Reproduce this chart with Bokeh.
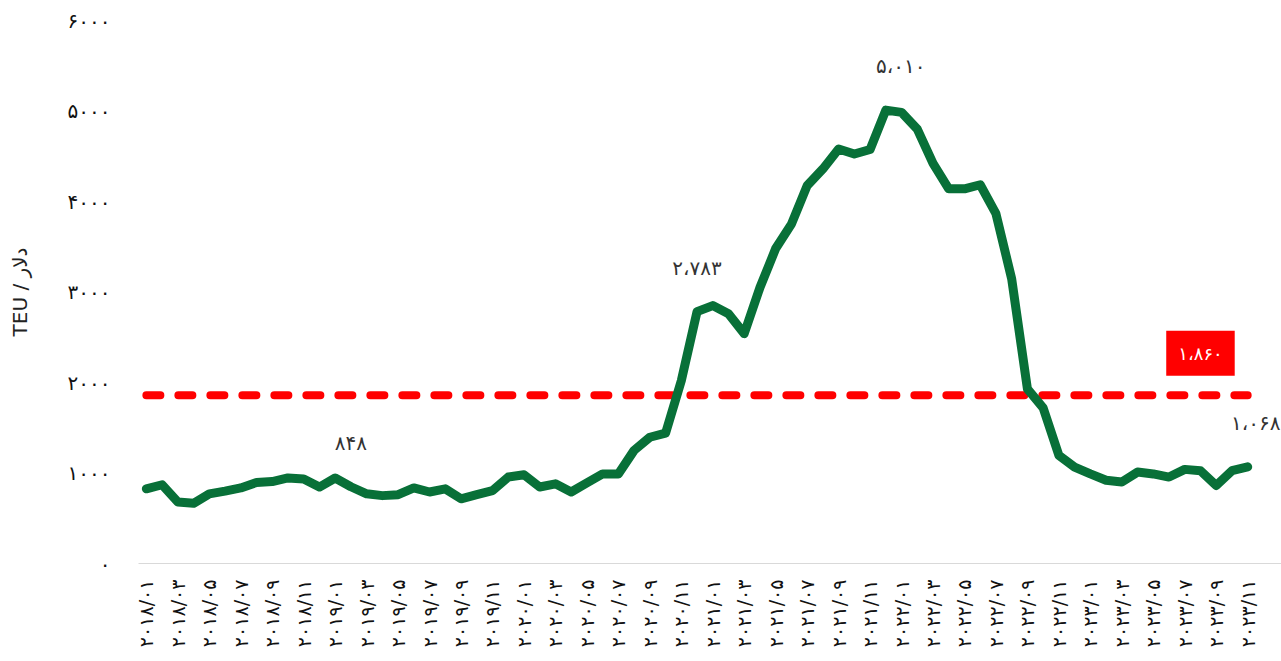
import math
from bokeh.plotting import figure
from bokeh.models import FixedTicker, Label, Range1d
from bokeh.embed import file_html
from bokeh.resources import INLINE

FA = str.maketrans("0123456789,", "۰۱۲۳۴۵۶۷۸۹،")

# monthly labels 2018/01 .. 2023/11
months = [f"{y}/{m:02d}" for y in range(2018, 2024) for m in range(1, 13)][:71]

# freight rate, USD / TEU
values = [825, 870, 680, 665, 770, 800, 835, 895, 905, 945,
          935, 845, 945, 848, 770, 750, 760, 835, 790, 825,
          715, 760, 805, 955, 980, 845, 880, 790, 890, 990,
          990, 1250, 1395, 1440, 2020, 2783, 2850, 2760, 2540, 3050,
          3480, 3750, 4175, 4360, 4580, 4525, 4575, 5010, 4985, 4800,
          4420, 4140, 4140, 4185, 3865, 3145, 1930, 1720, 1195, 1065,
          990, 920, 900, 1010, 990, 955, 1040, 1025, 862, 1025, 1068]

average = 1860
y_ticks = [0, 1000, 2000, 3000, 4000, 5000, 6000]

# annotated points: (month index, value)
callouts = [(13, 848), (35, 2783), (47, 5010), (70, 1068)]
callout_dx = [0, 0, 15, 8]

idx = list(range(len(values)))

p = figure(width=1281, height=661,
           x_range=Range1d(-0.5, 72.15), y_range=Range1d(0, 6000),
           output_backend="svg", toolbar_location=None,
           min_border_left=138, min_border_right=0,
           min_border_top=20, min_border_bottom=98)
p.outline_line_color = None
p.grid.visible = False
p.background_fill_color = "white"
p.border_fill_color = "white"

# average dashed line
p.line([idx[0], idx[-1]], [average, average], line_color="#ff0000",
       line_width=8, line_dash="14 18", line_cap="round")

# main series
p.line(idx, values, line_color="#087038", line_width=9,
       line_join="round", line_cap="round")

# axes
xa = p.xaxis[0]
xa.ticker = FixedTicker(ticks=list(range(0, 71, 2)))
xa.major_label_overrides = {i: months[i].translate(FA) for i in range(0, 71, 2)}
xa.major_label_orientation = math.pi / 2
xa.major_tick_line_color = None
xa.minor_tick_line_color = None
xa.axis_line_color = "#d9d9d9"
xa.major_label_text_font = "DejaVu Sans"
xa.major_label_text_font_size = "19px"
xa.major_label_text_color = "#111111"
xa.major_label_standoff = 10

ya = p.yaxis[0]
ya.ticker = FixedTicker(ticks=y_ticks)
ya.major_label_overrides = {t: str(t).translate(FA) for t in y_ticks}
ya.major_tick_line_color = None
ya.minor_tick_line_color = None
ya.axis_line_color = None
ya.major_label_text_font = "DejaVu Sans"
ya.major_label_text_font_size = "20px"
ya.major_label_text_color = "#111111"
ya.major_label_standoff = 22
ya.axis_label = "TEU / دلار"
ya.axis_label_text_font = "DejaVu Sans"
ya.axis_label_text_font_size = "20px"
ya.axis_label_text_font_style = "normal"
ya.axis_label_text_color = "#222222"
ya.axis_label_standoff = 33

for (i, v), dx in zip(callouts, callout_dx):
    p.add_layout(Label(x=i, y=v, x_offset=dx, y_offset=44,
                       text=f"{v:,}".translate(FA),
                       text_align="center", text_baseline="middle",
                       text_font="DejaVu Sans", text_font_size="20px",
                       text_color="#333333"))

# average value box
p.add_layout(Label(x=67, y=average, y_offset=42,
                   text=f"{average:,}".translate(FA),
                   text_align="center", text_baseline="middle",
                   text_font="DejaVu Sans", text_font_size="18px",
                   text_color="white", background_fill_color="#ff0000",
                   padding=12))

open("out.html", "w").write(file_html(p, INLINE))
